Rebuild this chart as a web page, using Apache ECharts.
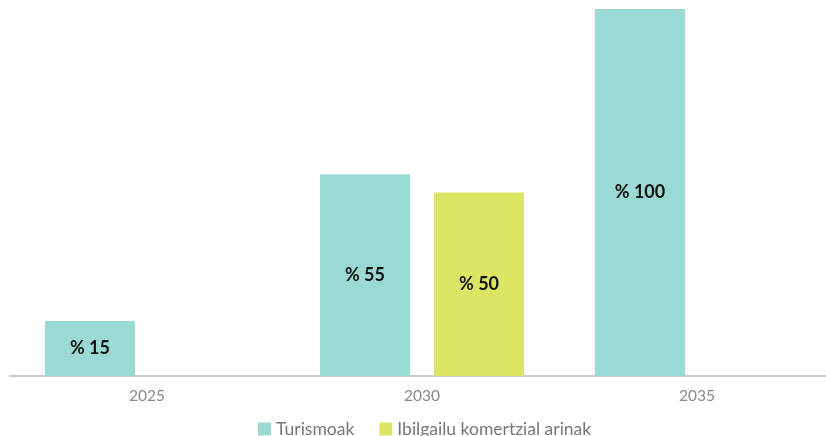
<!DOCTYPE html>
<html>
<head>
<meta charset="utf-8">
<script src="https://cdn.jsdelivr.net/npm/echarts@6/dist/echarts.min.js"></script>
<style>html,body{margin:0;padding:0;background:#fff}#c{width:826px;height:436px}</style>
</head>
<body>
<div id="c"></div>
<script>
const categories = ['2025', '2030', '2035'];
const turismoak = [15, 55, 100];
const ibilgailu = [null, 50, null];
const seriesNames = ['Turismoak', 'Ibilgailu komertzial arinak'];

const chart = echarts.init(document.getElementById('c'), null, {renderer: 'canvas'});
const font = 'Lato, "Noto Sans", sans-serif';
const labelCfg = {
  show: true, position: 'inside', formatter: p => p.value == null ? '' : '% ' + p.value,
  color: '#111', fontWeight: 'bold', fontSize: 18, fontFamily: font
};
chart.setOption({
  animation: false,
  grid: {left: 9.5, width: 825, top: 9, height: 367, containLabel: false, outerBoundsMode: 'none'},
  legend: {
    bottom: -7, left: 253, itemWidth: 13, itemHeight: 13, itemGap: 25,
    icon: 'rect',
    textStyle: {color: '#777', fontSize: 17.5, fontFamily: font}
  },
  xAxis: {
    type: 'category', data: categories,
    axisLine: {lineStyle: {color: '#bbb', width: 1.5}},
    axisTick: {show: false},
    axisLabel: {color: '#888', fontSize: 15.5, fontFamily: font, margin: 12}
  },
  yAxis: {type: 'value', min: 0, max: 100, show: false, splitLine: {show: false}},
  series: [
    {name: seriesNames[0], type: 'bar', data: turismoak, barWidth: 90, barGap: '26.7%',
     itemStyle: {color: '#9BDAD4'}, label: labelCfg},
    {name: seriesNames[1], type: 'bar', data: ibilgailu, barWidth: 90,
     itemStyle: {color: '#DCE665'}, label: labelCfg}
  ]
});
</script>
</body>
</html>
